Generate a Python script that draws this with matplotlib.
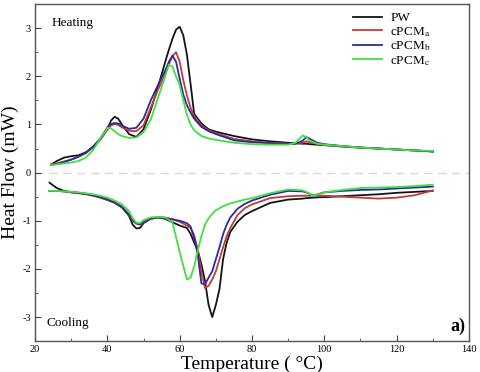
import matplotlib

matplotlib.use("Agg")
import matplotlib.pyplot as plt
from matplotlib.ticker import MultipleLocator

# DSC heating / cooling curves
T_HEAT = [24.5, 26, 28, 30, 32, 34, 36, 38, 40, 41, 42, 43, 44, 46, 48, 50, 52, 54,
          56, 57, 58, 59, 60, 61, 62, 63, 64, 66, 68, 70, 75, 80, 85, 90, 92, 94,
          95, 96, 98, 100, 105, 110, 115, 120, 125, 130]
HEAT_PW = [0.17, 0.24, 0.31, 0.34, 0.36, 0.42, 0.53, 0.68, 0.90, 1.08, 1.16, 1.12, 1.00,
           0.80, 0.74, 0.90, 1.30, 1.78, 2.30, 2.55, 2.78, 2.97, 3.03, 2.85, 2.45, 1.85,
           1.22, 1.02, 0.90, 0.85, 0.76, 0.69, 0.65, 0.62, 0.61, 0.60, 0.60, 0.59, 0.58,
           0.57, 0.54, 0.52, 0.50, 0.48, 0.46, 0.44]
HEAT_A = [0.17, 0.19, 0.23, 0.27, 0.33, 0.40, 0.52, 0.68, 0.90, 0.98, 1.01, 0.99, 0.94,
          0.87, 0.86, 0.98, 1.35, 1.72, 2.05, 2.25, 2.42, 2.50, 2.30, 1.92, 1.60, 1.35,
          1.17, 0.98, 0.88, 0.82, 0.70, 0.65, 0.62, 0.60, 0.60, 0.62, 0.65, 0.63, 0.60,
          0.58, 0.55, 0.52, 0.50, 0.48, 0.46, 0.44]
HEAT_B = [0.16, 0.18, 0.22, 0.27, 0.33, 0.41, 0.54, 0.70, 0.94, 1.01, 1.03, 1.02, 0.98,
          0.91, 0.93, 1.12, 1.50, 1.82, 2.12, 2.30, 2.43, 2.30, 1.95, 1.62, 1.40, 1.25,
          1.12, 0.95, 0.86, 0.80, 0.67, 0.63, 0.61, 0.60, 0.60, 0.66, 0.74, 0.70, 0.62,
          0.59, 0.55, 0.52, 0.50, 0.48, 0.46, 0.44]
HEAT_C = [0.16, 0.17, 0.19, 0.21, 0.24, 0.31, 0.46, 0.70, 0.93, 0.92, 0.86, 0.80, 0.76,
          0.72, 0.73, 0.84, 1.10, 1.55, 2.00, 2.24, 2.20, 2.00, 1.82, 1.50, 1.20, 1.00,
          0.88, 0.76, 0.71, 0.68, 0.62, 0.59, 0.58, 0.58, 0.62, 0.77, 0.74, 0.66, 0.60,
          0.58, 0.55, 0.52, 0.50, 0.48, 0.46, 0.45]

T_COOL = [24, 26, 28, 30, 32, 34, 36, 38, 40, 42, 44, 46, 47, 48, 49, 50, 52, 54, 56,
          58, 60, 62, 63, 64, 65, 66, 67, 68, 69, 70, 71, 72, 73, 74, 76, 78, 80, 85,
          90, 94, 95, 97, 99, 100, 105, 110, 115, 120, 125, 130]
COOL_PW = [-0.21, -0.32, -0.38, -0.41, -0.42, -0.44, -0.47, -0.51, -0.56, -0.62, -0.72,
           -0.90, -1.08, -1.16, -1.15, -1.05, -0.96, -0.93, -0.96, -1.03, -1.10, -1.15,
           -1.27, -1.45, -1.62, -1.90, -2.25, -2.75, -3.00, -2.75, -2.42, -1.80, -1.45,
           -1.23, -1.02, -0.88, -0.80, -0.63, -0.56, -0.54, -0.53, -0.52, -0.51, -0.51,
           -0.49, -0.47, -0.45, -0.42, -0.40, -0.38]
COOL_A = [-0.38, -0.38, -0.39, -0.41, -0.43, -0.45, -0.48, -0.52, -0.57, -0.63, -0.72,
          -0.88, -1.00, -1.06, -1.08, -1.03, -0.96, -0.93, -0.94, -0.97, -1.02, -1.10,
          -1.15, -1.30, -1.60, -2.05, -2.40, -2.35, -2.22, -2.05, -1.80, -1.55, -1.32,
          -1.15, -0.88, -0.74, -0.66, -0.53, -0.49, -0.48, -0.48, -0.48, -0.48, -0.48,
          -0.50, -0.52, -0.54, -0.52, -0.47, -0.37]
COOL_B = [-0.38, -0.38, -0.39, -0.40, -0.42, -0.44, -0.47, -0.51, -0.56, -0.62, -0.71,
          -0.87, -0.99, -1.05, -1.07, -1.02, -0.95, -0.93, -0.94, -0.97, -1.00, -1.05,
          -1.12, -1.35, -1.70, -2.30, -2.32, -2.18, -2.05, -1.80, -1.55, -1.28, -1.08,
          -0.93, -0.75, -0.65, -0.58, -0.46, -0.38, -0.39, -0.41, -0.48, -0.43, -0.41,
          -0.38, -0.36, -0.35, -0.33, -0.31, -0.29]
COOL_C = [-0.38, -0.38, -0.39, -0.40, -0.41, -0.43, -0.45, -0.48, -0.52, -0.58, -0.66,
          -0.80, -0.95, -1.04, -1.05, -0.99, -0.93, -0.92, -0.93, -1.03, -1.65, -2.22,
          -2.18, -1.95, -1.62, -1.32, -1.08, -0.95, -0.86, -0.78, -0.74, -0.70, -0.67,
          -0.64, -0.60, -0.56, -0.53, -0.43, -0.35, -0.37, -0.40, -0.49, -0.43, -0.41,
          -0.36, -0.32, -0.31, -0.30, -0.28, -0.25]

LABELS = ["PW", r"cPCM$_{\rm a}$", r"cPCM$_{\rm b}$", r"cPCM$_{\rm c}$"]
COLORS = ["#141414", "#c23b3b", "#2b2b9e", "#3fe03f"]

plt.rcParams["font.family"] = "serif"
plt.rcParams["font.serif"] = ["Liberation Serif", "DejaVu Serif"]
plt.rcParams["mathtext.fontset"] = "stix"
plt.rcParams["axes.unicode_minus"] = False

fig = plt.figure(figsize=(4.8, 3.72), dpi=100)
ax = fig.add_axes([0.073, 0.083, 0.904, 0.906])

heat = [HEAT_PW, HEAT_A, HEAT_B, HEAT_C]
cool = [COOL_PW, COOL_A, COOL_B, COOL_C]
for h, c, lab, col in zip(heat, cool, LABELS, COLORS):
    ax.plot(T_HEAT, h, color=col, lw=1.3, label=lab)
    ax.plot(T_COOL, c, color=col, lw=1.3)

ax.axhline(0, color="#d9d9d9", lw=1.0, ls=(0, (6, 4)), zorder=0)

ax.set_xlim(20, 140)
ax.set_ylim(-3.5, 3.5)
ax.xaxis.set_major_locator(MultipleLocator(20))
ax.xaxis.set_minor_locator(MultipleLocator(10))
ax.yaxis.set_major_locator(MultipleLocator(1))
ax.yaxis.set_minor_locator(MultipleLocator(0.5))
ax.tick_params(which="both", direction="in", labelsize=7.5, color="#444444", pad=3)
ax.tick_params(which="major", length=4.5)
ax.tick_params(which="minor", length=2.5)
for s in ax.spines.values():
    s.set_color("#555555")
    s.set_linewidth(1.0)

ax.set_xlabel("Temperature ( °C)", fontsize=14, labelpad=1)
ax.set_ylabel("Heat Flow (mW)", fontsize=14, labelpad=2)

ax.text(24.7, 3.1, "Heating", fontsize=9.5, va="center", ha="left")
ax.text(23.3, -3.13, "Cooling", fontsize=9.5, va="center", ha="left")
ax.text(139, -3.19, "a)", fontsize=13, fontweight="bold", va="center", ha="right")

ax.legend(loc="upper right", bbox_to_anchor=(0.93, 1.0), frameon=False, fontsize=9.5,
          handlelength=2.2, handletextpad=0.6, labelspacing=0.05, borderaxespad=0.2)

fig.savefig("out.png", dpi=100)
